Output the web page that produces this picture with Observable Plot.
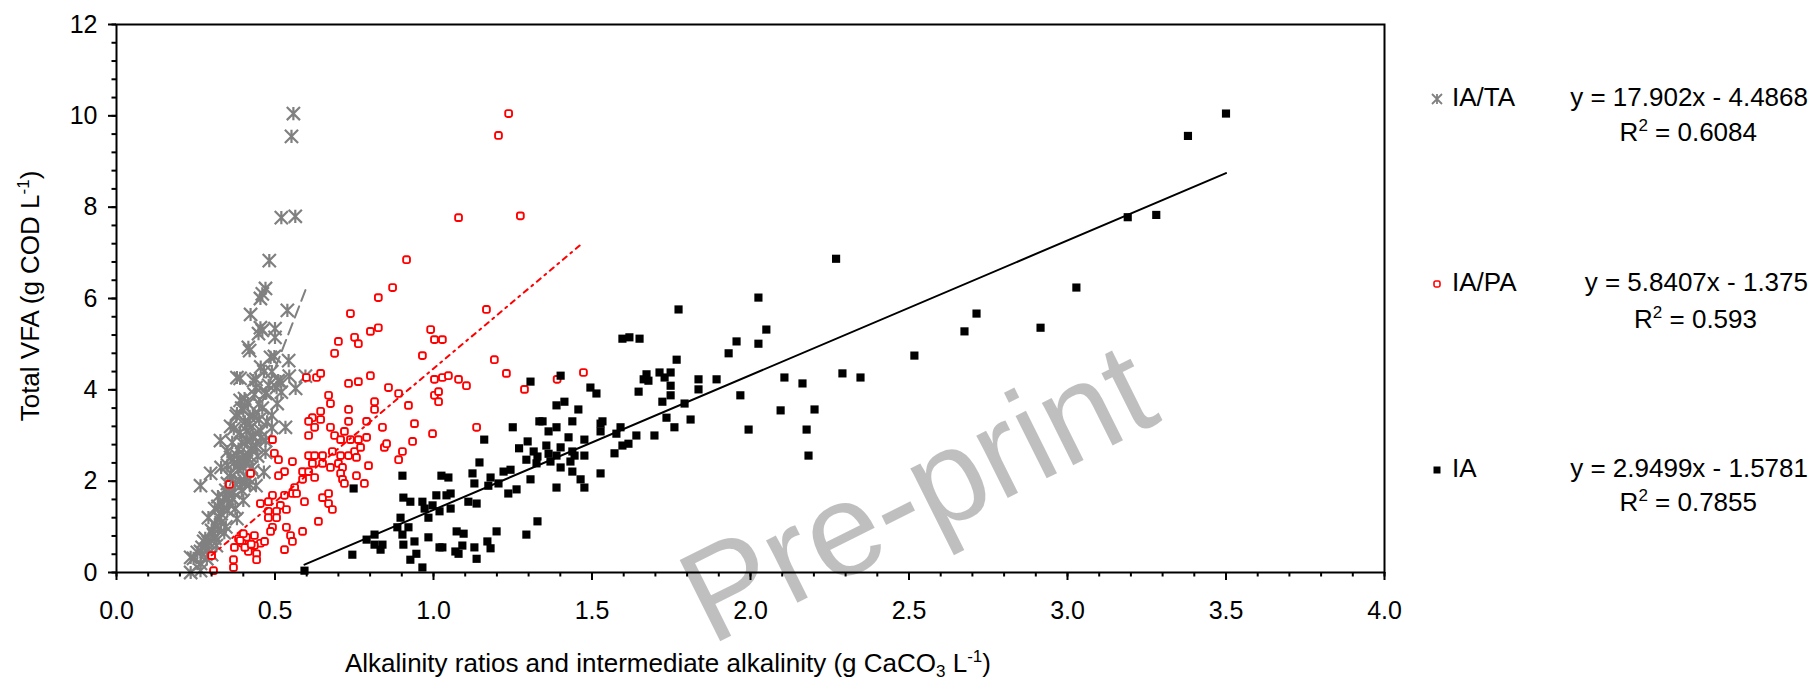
<!DOCTYPE html>
<html><head><meta charset="utf-8">
<script src="https://cdn.jsdelivr.net/npm/d3@7"></script>
<script src="https://cdn.jsdelivr.net/npm/@observablehq/plot@0.6"></script>
<style>html,body{margin:0;padding:0;background:#fff;} svg{display:block;}</style>
</head><body><div id="chart"></div>
<script>
// ---- data (x = alkalinity ratio / IA, y = total VFA g COD/L) ----
const seriesIATA = [[0.558,10.05],[0.552,9.55],[0.520,7.77],[0.564,7.80],[0.482,6.83],[0.470,6.22],[0.454,6.00],[0.460,6.10],[0.423,5.65],[0.539,5.74],[0.454,5.36],[0.500,5.34],[0.448,5.23],[0.500,5.15],[0.460,5.30],[0.416,4.93],[0.420,4.86],[0.498,4.73],[0.486,4.71],[0.543,4.64],[0.380,4.27],[0.390,4.25],[0.432,4.20],[0.440,4.23],[0.517,4.18],[0.510,4.20],[0.565,4.03],[0.596,4.30],[0.473,3.94],[0.470,3.92],[0.404,3.81],[0.390,3.77],[0.450,3.70],[0.507,3.70],[0.378,3.42],[0.380,3.48],[0.420,3.42],[0.430,3.44],[0.490,3.44],[0.533,3.18],[0.490,3.17],[0.370,3.15],[0.390,3.07],[0.430,3.00],[0.410,3.10],[0.470,2.89],[0.328,2.89],[0.410,2.89],[0.430,2.95],[0.470,2.63],[0.360,2.52],[0.380,2.56],[0.400,2.56],[0.420,2.56],[0.415,2.50],[0.410,2.43],[0.390,2.43],[0.430,2.23],[0.297,2.17],[0.265,1.90],[0.330,2.30],[0.360,2.17],[0.360,2.08],[0.410,2.08],[0.350,1.95],[0.440,1.90],[0.420,1.93],[0.320,1.66],[0.340,1.64],[0.366,1.62],[0.400,1.58],[0.350,1.36],[0.330,1.29],[0.380,1.18],[0.330,1.09],[0.300,0.92],[0.340,0.87],[0.306,0.83],[0.275,0.68],[0.290,0.66],[0.315,0.59],[0.255,0.44],[0.265,0.46],[0.300,0.39],[0.243,0.31],[0.234,0.33],[0.265,0.20],[0.234,0.00],[0.265,0.04],[0.280,0.75],[0.320,1.45],[0.370,1.75],[0.390,2.00],[0.400,2.30],[0.440,2.75],[0.420,3.25],[0.450,3.35],[0.460,3.60],[0.400,3.55],[0.360,3.20],[0.440,4.05],[0.455,4.50],[0.480,4.10],[0.370,2.40],[0.350,2.65],[0.310,1.05],[0.290,1.20],[0.345,1.80],[0.385,2.70],[0.395,2.85],[0.405,3.30],[0.355,1.50],[0.270,0.55],[0.310,0.75],[0.395,3.60],[0.415,3.70],[0.435,3.90],[0.465,4.40],[0.490,4.40],[0.505,4.05],[0.455,3.10],[0.445,2.55],[0.385,2.25],[0.375,1.95],[0.395,1.80],[0.355,1.70],[0.335,1.50],[0.375,1.40],[0.325,1.20],[0.345,1.00],[0.320,0.95],[0.290,0.50],[0.285,0.30],[0.365,2.85],[0.425,2.70],[0.455,2.95],[0.475,3.30],[0.520,3.95],[0.545,4.30],[0.350,2.35],[0.425,2.30],[0.465,2.20],[0.405,1.95],[0.310,1.40]];

const seriesIAPA = [[1.237,10.05],[1.205,9.57],[1.079,7.77],[1.274,7.81],[0.915,6.85],[0.871,6.24],[0.826,6.02],[0.738,5.67],[1.167,5.76],[0.801,5.28],[0.826,5.36],[0.751,5.15],[0.763,5.01],[0.700,5.06],[0.688,4.80],[0.991,5.32],[1.003,5.10],[1.028,5.10],[0.965,4.75],[1.192,4.66],[1.230,4.36],[1.287,4.01],[1.390,4.23],[1.473,4.38],[0.599,4.27],[0.631,4.27],[0.644,4.36],[0.732,4.14],[0.763,4.18],[0.801,4.31],[0.858,4.05],[0.890,3.92],[0.921,3.66],[1.003,4.23],[1.028,4.27],[1.047,4.31],[1.079,4.23],[1.104,4.09],[1.003,3.88],[1.016,3.96],[1.016,3.74],[0.814,3.74],[0.814,3.57],[0.669,3.88],[0.675,3.70],[0.732,3.57],[0.644,3.53],[0.644,3.35],[0.618,3.39],[0.606,3.31],[0.625,3.18],[0.606,3.00],[0.675,3.18],[0.732,3.31],[0.789,3.31],[0.839,3.18],[0.940,3.26],[0.997,3.04],[1.136,3.18],[0.688,3.00],[0.707,2.91],[0.719,3.09],[0.738,2.91],[0.763,2.91],[0.789,2.96],[0.492,2.91],[0.498,2.61],[0.511,2.47],[0.555,2.43],[0.606,2.56],[0.625,2.56],[0.650,2.56],[0.681,2.65],[0.707,2.56],[0.732,2.56],[0.751,2.65],[0.770,2.74],[0.757,2.52],[0.618,2.39],[0.650,2.39],[0.675,2.30],[0.700,2.39],[0.713,2.30],[0.530,2.21],[0.511,2.12],[0.587,2.21],[0.606,2.21],[0.625,2.08],[0.587,2.04],[0.707,2.17],[0.713,2.04],[0.719,1.95],[0.795,2.34],[0.757,2.12],[0.782,1.95],[0.890,2.47],[0.902,2.65],[0.934,2.87],[0.845,2.74],[0.852,2.82],[0.562,1.86],[0.555,1.73],[0.568,1.73],[0.593,1.55],[0.650,1.64],[0.669,1.73],[0.669,1.51],[0.681,1.38],[0.637,1.12],[0.492,1.69],[0.530,1.69],[0.454,1.51],[0.479,1.55],[0.517,1.47],[0.479,1.34],[0.505,1.34],[0.536,1.38],[0.479,1.20],[0.505,1.20],[0.492,0.99],[0.486,0.90],[0.536,0.99],[0.587,0.90],[0.549,0.81],[0.555,0.68],[0.530,0.50],[0.454,0.64],[0.467,0.68],[0.435,0.81],[0.410,0.77],[0.397,0.64],[0.416,0.55],[0.435,0.59],[0.442,0.41],[0.442,0.28],[0.423,2.17],[0.416,0.46],[0.356,1.93],[0.300,0.37],[0.306,0.04],[0.369,0.11],[0.369,0.28],[0.372,0.55],[0.385,0.74],[0.400,0.85],[0.390,0.70],[0.405,0.55],[0.425,0.62]];

const seriesIA = [[0.593,0.04],[0.744,0.39],[0.748,1.84],[0.789,0.72],[0.814,0.83],[0.814,0.61],[0.839,0.61],[0.833,0.50],[0.886,0.99],[0.896,1.20],[0.902,0.83],[0.902,2.12],[0.905,1.64],[0.905,0.61],[0.921,0.99],[0.927,1.55],[0.927,0.28],[0.940,0.68],[0.946,0.41],[0.965,1.55],[0.965,0.11],[0.972,1.40],[0.984,1.20],[0.984,0.77],[0.997,1.47],[1.009,1.69],[1.019,1.34],[1.019,0.55],[1.025,2.12],[1.028,0.55],[1.041,1.69],[1.047,2.08],[1.054,1.73],[1.054,1.40],[1.069,0.46],[1.073,0.90],[1.079,0.41],[1.091,0.59],[1.095,0.85],[1.110,1.55],[1.123,2.17],[1.129,1.95],[1.129,0.55],[1.136,1.51],[1.136,0.30],[1.145,2.41],[1.160,2.91],[1.170,0.68],[1.173,1.90],[1.180,2.08],[1.180,0.53],[1.199,0.90],[1.205,1.95],[1.221,2.21],[1.236,1.73],[1.243,2.25],[1.250,3.18],[1.262,1.82],[1.270,2.72],[1.293,2.47],[1.293,0.83],[1.297,2.87],[1.306,4.18],[1.306,2.04],[1.316,2.65],[1.325,2.39],[1.328,1.12],[1.334,3.31],[1.328,2.54],[1.363,2.60],[1.344,3.31],[1.356,2.78],[1.363,3.09],[1.369,2.43],[1.388,3.66],[1.388,3.18],[1.388,2.56],[1.388,1.86],[1.401,4.31],[1.401,2.74],[1.401,2.30],[1.413,3.74],[1.426,2.96],[1.432,2.43],[1.438,3.31],[1.438,2.65],[1.438,2.21],[1.445,2.56],[1.457,3.57],[1.464,2.04],[1.476,2.91],[1.476,2.56],[1.476,1.86],[1.495,4.05],[1.514,3.92],[1.527,3.26],[1.533,3.31],[1.527,3.09],[1.527,2.17],[1.571,2.61],[1.577,3.04],[1.590,3.18],[1.596,5.12],[1.596,2.78],[1.615,2.82],[1.618,5.15],[1.640,3.00],[1.647,3.96],[1.650,5.12],[1.663,4.23],[1.672,4.34],[1.678,4.20],[1.697,3.00],[1.713,4.38],[1.722,3.74],[1.729,4.27],[1.735,3.39],[1.748,4.38],[1.748,4.09],[1.748,3.88],[1.760,3.18],[1.767,4.66],[1.773,5.76],[1.792,3.70],[1.811,3.35],[1.836,4.23],[1.836,4.01],[1.893,4.23],[1.931,4.80],[1.956,5.06],[1.968,3.88],[1.994,3.13],[2.025,5.01],[2.025,6.02],[2.050,5.32],[2.095,3.55],[2.107,4.27],[2.164,4.14],[2.177,3.13],[2.183,2.56],[2.202,3.57],[2.270,6.87],[2.290,4.36],[2.347,4.27],[2.517,4.75],[2.675,5.28],[2.713,5.67],[2.915,5.36],[3.028,6.24],[3.190,7.78],[3.280,7.83],[3.380,9.56],[3.500,10.05]];

const seriesNames = ["IA/TA", "IA/PA", "IA"];
const slopes = [17.902, 5.8407, 2.9499];
const intercepts = [-4.4868, -1.375, -1.5781];
const equationLabels = ["y = 17.902x - 4.4868", "y = 5.8407x - 1.375", "y = 2.9499x - 1.5781"];
const r2Labels = ["0.6084", "0.593", "0.7855"];
const xMajorTicks = [0, 0.5, 1, 1.5, 2, 2.5, 3, 3.5, 4];
const xMinorTicks = d3.range(0, 41).map(i => i / 10);
const yMajorTicks = [0, 2, 4, 6, 8, 10, 12];
const yMinorTicks = d3.range(0, 31).map(i => +(i * 0.4).toFixed(1));

// ---- styling ----
const FONT = "'Liberation Sans', Arial, Helvetica, sans-serif";
const FS = 25;   // tick labels
const TFS = 26;  // titles and legend
const colors = ["#808080", "#ff0000", "#000000"];

const asteriskSym = {
  draw(ctx, size) {
    const r = Math.sqrt(size / Math.PI);
    ctx.moveTo(-r, -r); ctx.lineTo(r, r);
    ctx.moveTo(-r, r); ctx.lineTo(r, -r);
    ctx.moveTo(0, -r); ctx.lineTo(0, r);
  }
};
const roundSquareSym = {
  draw(ctx, size) {
    const s = Math.sqrt(size / Math.PI), k = s * 0.55;
    ctx.moveTo(-s + k, -s);
    ctx.arcTo(s, -s, s, s, k);
    ctx.arcTo(s, s, -s, s, k);
    ctx.arcTo(-s, s, -s, -s, k);
    ctx.arcTo(-s, -s, s, -s, k);
    ctx.closePath();
  }
};

const allSeries = [seriesIATA, seriesIAPA, seriesIA];
const trend = allSeries.flatMap((s, i) => {
  const [x0, x1] = d3.extent(s, d => d[0]);
  return [x0, x1].map(x => ({name: seriesNames[i], x, y: slopes[i] * x + intercepts[i]}));
});

const chart = Plot.plot({
  width: 1816, height: 680,
  marginLeft: 116, marginRight: 432, marginTop: 24, marginBottom: 108,
  x: {domain: [0, 4]},
  y: {domain: [0, 12]},
  style: {fontFamily: FONT, fontSize: FS + "px", background: "#fff", color: "#000"},
  marks: [
    Plot.dot(seriesIATA, {x: d => d[0], y: d => d[1], symbol: asteriskSym, r: 6.6, stroke: colors[0], strokeWidth: 2.2, fill: "none"}),
    Plot.dot(seriesIAPA, {x: d => d[0], y: d => d[1], symbol: roundSquareSym, r: 3.4, stroke: colors[1], strokeWidth: 1.9, fill: "#fff"}),
    Plot.dot(seriesIA, {x: d => d[0], y: d => d[1], symbol: "square", r: 4.6, fill: colors[2], stroke: "none"}),
    Plot.line(trend.filter(d => d.name === "IA/TA"), {x: "x", y: "y", stroke: colors[0], strokeWidth: 2, strokeDasharray: "12,6", clip: true}),
    Plot.line(trend.filter(d => d.name === "IA/PA"), {x: "x", y: "y", stroke: colors[1], strokeWidth: 2, strokeDasharray: "5,5,2,5", clip: true}),
    Plot.line(trend.filter(d => d.name === "IA"), {x: "x", y: "y", stroke: colors[2], strokeWidth: 2, clip: true}),
    Plot.frame({stroke: "#000", strokeWidth: 2}),
    Plot.axisX(xMinorTicks, {tickSize: 4.5, strokeWidth: 2, tickFormat: () => "", label: null}),
    Plot.axisX(xMajorTicks, {tickSize: 8, tickPadding: 21, strokeWidth: 2, tickFormat: d3.format(".1f"), label: null, fontSize: FS}),
    Plot.axisY(yMinorTicks, {tickSize: 4.5, strokeWidth: 2, tickFormat: () => "", label: null}),
    Plot.axisY(yMajorTicks, {tickSize: 8, tickPadding: 11, strokeWidth: 2, tickFormat: d => String(d), label: null, fontSize: FS})
  ]
});

document.getElementById("chart").appendChild(chart);

// ---- titles, legend, watermark ----
const svg = d3.select(chart);
const g = svg.append("g").attr("font-family", FONT).attr("font-size", TFS)
  .attr("fill", "#000").attr("text-anchor", "start");

// y title
const yt = g.append("text").attr("text-anchor", "middle")
  .attr("transform", "translate(39,296) rotate(-90)");
yt.append("tspan").text("Total VFA (g COD L");
yt.append("tspan").attr("font-size", 17).attr("dy", -10).text("-1");
yt.append("tspan").attr("dy", 10).text(")");

// x title
const xt = g.append("text").attr("x", 345).attr("y", 672);
xt.append("tspan").text("Alkalinity ratios and intermediate alkalinity (g CaCO");
xt.append("tspan").attr("font-size", 17).attr("dy", 5).text("3");
xt.append("tspan").attr("dy", -5).text(" L");
xt.append("tspan").attr("font-size", 17).attr("dy", -10).text("-1");
xt.append("tspan").attr("dy", 10).text(")");

// legend
const rowBase = [106, 291, 477];
const r2Base = [141, 328, 511];
const legSyms = [
  {sym: asteriskSym, size: Math.PI * 5 * 5, fill: "none", stroke: colors[0], sw: 1.8},
  {sym: roundSquareSym, size: Math.PI * 3 * 3, fill: "#fff", stroke: colors[1], sw: 1.6},
  {sym: d3.symbolSquare, size: 49, fill: colors[2], stroke: "none", sw: 0}
];
seriesNames.forEach((name, i) => {
  const ls = legSyms[i];
  g.append("path").attr("d", d3.symbol(ls.sym, ls.size)())
    .attr("transform", `translate(1437,${rowBase[i] - 7})`)
    .attr("fill", ls.fill).attr("stroke", ls.stroke).attr("stroke-width", ls.sw);
  g.append("text").attr("x", 1452).attr("y", rowBase[i]).text(name);
  g.append("text").attr("x", 1808).attr("y", rowBase[i]).attr("text-anchor", "end").text(equationLabels[i]);
  const rt = g.append("text").attr("x", 1757).attr("y", r2Base[i]).attr("text-anchor", "end");
  rt.append("tspan").text("R");
  rt.append("tspan").attr("font-size", 17).attr("dy", -10).text("2");
  rt.append("tspan").attr("dy", 10).text(" = " + r2Labels[i]);
});

// watermark
svg.append("text").attr("font-family", FONT).attr("font-size", 132)
  .attr("fill", "#000").attr("fill-opacity", 0.25).attr("text-anchor", "middle")
  .attr("transform", "translate(937,533) rotate(-26.5)")
  .text("Pre-print");
</script>
</body></html>
